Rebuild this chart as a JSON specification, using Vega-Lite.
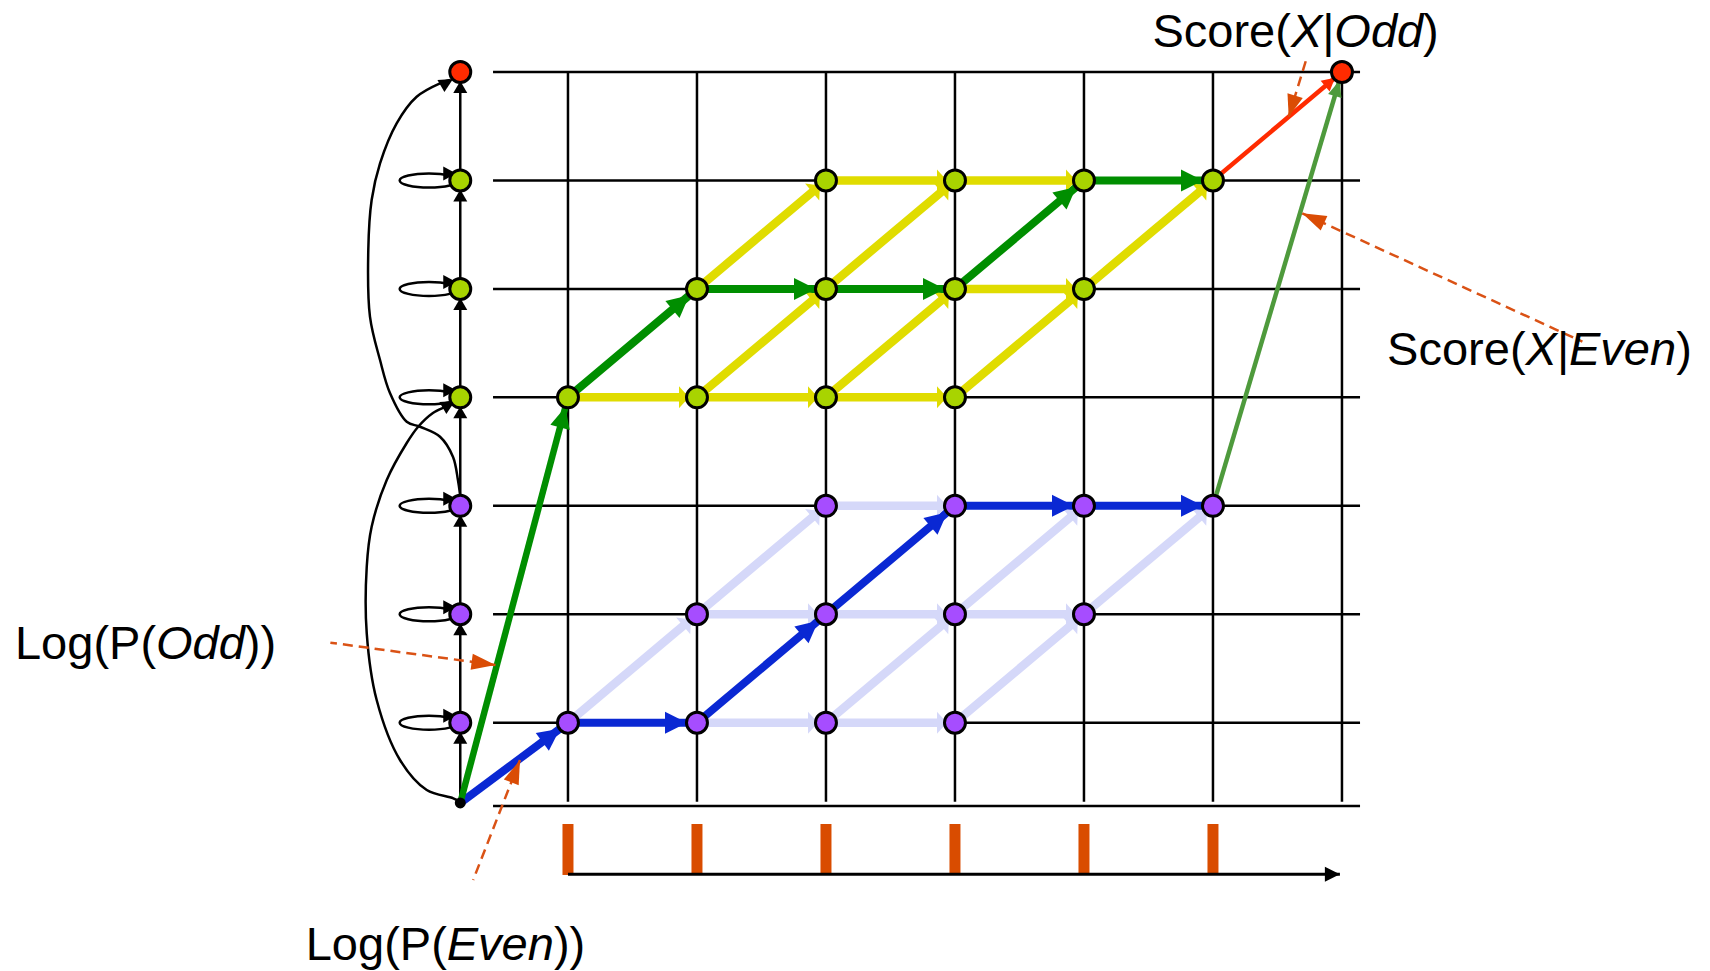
{
"$schema": "https://vega.github.io/schema/vega-lite/v6.json",
"width": 1710, "height": 971,
"autosize": {"type": "fit", "contains": "padding"},
"padding": 0,
"background": "white",
"config": {"view": {"stroke": null}},
"datasets": {
"grid": [
{"x":0.419,"y":7,"x0":7.14,"y0":7},{"x":0.419,"y":6,"x0":7.14,"y0":6},{"x":0.419,"y":5,"x0":7.14,"y0":5},{"x":0.419,"y":4,"x0":7.14,"y0":4},
{"x":0.419,"y":3,"x0":7.14,"y0":3},{"x":0.419,"y":2,"x0":7.14,"y0":2},{"x":0.419,"y":1,"x0":7.14,"y0":1},{"x":0.419,"y":0.232,"x0":7.14,"y0":0.232},
{"x":1,"y":7,"x0":1,"y0":0.27},{"x":2,"y":7,"x0":2,"y0":0.27},{"x":3,"y":7,"x0":3,"y0":0.27},{"x":4,"y":7,"x0":4,"y0":0.27},
{"x":5,"y":7,"x0":5,"y0":0.27},{"x":6,"y":7,"x0":6,"y0":0.27},{"x":7,"y":7,"x0":7,"y0":0.27}
],
"ticks": [{"x":1,"y":0.066,"y0":-0.404},{"x":2,"y":0.066,"y0":-0.404},{"x":3,"y":0.066,"y0":-0.404},{"x":4,"y":0.066,"y0":-0.404},{"x":5,"y":0.066,"y0":-0.404},{"x":6,"y":0.066,"y0":-0.404}],
"axisline": [{"x":6.984,"y":-0.397,"x0":1,"y0":-0.397}],
"stem": [{"x":0.165,"y":7,"x0":0.165,"y0":0.26}],
"arcs": [
{"arc":"A","i":0,"x":0.163,"y":3.109},{"arc":"A","i":1,"x":0.147,"y":3.238},{"arc":"A","i":2,"x":0.109,"y":3.45},{"arc":"A","i":3,"x":0.008,"y":3.637},
{"arc":"A","i":4,"x":-0.147,"y":3.729},{"arc":"A","i":5,"x":-0.25,"y":3.775},{"arc":"A","i":6,"x":-0.38,"y":4.04},{"arc":"A","i":7,"x":-0.457,"y":4.344},
{"arc":"A","i":8,"x":-0.535,"y":4.744},{"arc":"A","i":9,"x":-0.548,"y":5.359},{"arc":"A","i":10,"x":-0.522,"y":5.82},{"arc":"A","i":11,"x":-0.457,"y":6.158},
{"arc":"A","i":12,"x":-0.328,"y":6.527},{"arc":"A","i":13,"x":-0.173,"y":6.772},{"arc":"A","i":14,"x":0.008,"y":6.896},{"arc":"A","i":15,"x":0.085,"y":6.926},
{"arc":"B","i":0,"x":0.165,"y":0.27},{"arc":"B","i":1,"x":0.111,"y":0.303},{"arc":"B","i":2,"x":-0.095,"y":0.379},{"arc":"B","i":3,"x":-0.302,"y":0.656},
{"arc":"B","i":4,"x":-0.483,"y":1.209},{"arc":"B","i":5,"x":-0.56,"y":1.824},{"arc":"B","i":6,"x":-0.56,"y":2.438},{"arc":"B","i":7,"x":-0.522,"y":2.807},
{"arc":"B","i":8,"x":-0.405,"y":3.238},{"arc":"B","i":9,"x":-0.25,"y":3.579},{"arc":"B","i":10,"x":-0.163,"y":3.727},{"arc":"B","i":11,"x":-0.047,"y":3.856},
{"arc":"B","i":12,"x":0.06,"y":3.92},{"arc":"B","i":13,"x":0.1,"y":3.95}
],
"archeads": [{"x":0.109,"y":6.935},{"x":0.124,"y":3.966}],
"edges": [
{"x":2,"y":4,"x0":1,"y0":4,"c":"oa","dir":"h"},{"x":3,"y":4,"x0":2,"y0":4,"c":"oa","dir":"h"},{"x":4,"y":4,"x0":3,"y0":4,"c":"oa","dir":"h"},
{"x":5,"y":5,"x0":4,"y0":5,"c":"oa","dir":"h"},{"x":4,"y":6,"x0":3,"y0":6,"c":"oa","dir":"h"},{"x":5,"y":6,"x0":4,"y0":6,"c":"oa","dir":"h"},
{"x":3,"y":5,"x0":2,"y0":4,"c":"oa","dir":"d"},{"x":4,"y":5,"x0":3,"y0":4,"c":"oa","dir":"d"},{"x":5,"y":5,"x0":4,"y0":4,"c":"oa","dir":"d"},
{"x":3,"y":6,"x0":2,"y0":5,"c":"oa","dir":"d"},{"x":4,"y":6,"x0":3,"y0":5,"c":"oa","dir":"d"},{"x":6,"y":6,"x0":5,"y0":5,"c":"oa","dir":"d"},
{"x":1,"y":4,"x0":0.165,"y0":0.26,"c":"ob","dir":"sg"},{"x":2,"y":5,"x0":1,"y0":4,"c":"ob","dir":"d"},{"x":3,"y":5,"x0":2,"y0":5,"c":"ob","dir":"h"},
{"x":4,"y":5,"x0":3,"y0":5,"c":"ob","dir":"h"},{"x":5,"y":6,"x0":4,"y0":5,"c":"ob","dir":"d"},{"x":6,"y":6,"x0":5,"y0":6,"c":"ob","dir":"h"},
{"x":7,"y":7,"x0":6,"y0":6,"c":"sc","dir":"d"},
{"x":3,"y":1,"x0":2,"y0":1,"c":"ea","dir":"h"},{"x":4,"y":1,"x0":3,"y0":1,"c":"ea","dir":"h"},{"x":3,"y":2,"x0":2,"y0":2,"c":"ea","dir":"h"},
{"x":4,"y":2,"x0":3,"y0":2,"c":"ea","dir":"h"},{"x":5,"y":2,"x0":4,"y0":2,"c":"ea","dir":"h"},{"x":4,"y":3,"x0":3,"y0":3,"c":"ea","dir":"h"},
{"x":2,"y":2,"x0":1,"y0":1,"c":"ea","dir":"d"},{"x":4,"y":2,"x0":3,"y0":1,"c":"ea","dir":"d"},{"x":5,"y":2,"x0":4,"y0":1,"c":"ea","dir":"d"},
{"x":3,"y":3,"x0":2,"y0":2,"c":"ea","dir":"d"},{"x":5,"y":3,"x0":4,"y0":2,"c":"ea","dir":"d"},{"x":6,"y":3,"x0":5,"y0":2,"c":"ea","dir":"d"},
{"x":1,"y":1,"x0":0.165,"y0":0.26,"c":"eb","dir":"sb"},{"x":2,"y":1,"x0":1,"y0":1,"c":"eb","dir":"h"},{"x":3,"y":2,"x0":2,"y0":1,"c":"eb","dir":"d"},
{"x":4,"y":3,"x0":3,"y0":2,"c":"eb","dir":"d"},{"x":5,"y":3,"x0":4,"y0":3,"c":"eb","dir":"h"},{"x":6,"y":3,"x0":5,"y0":3,"c":"eb","dir":"h"},
{"x":7,"y":7,"x0":6,"y0":3,"c":"lg","dir":"lg"}
],
"nodes": [
{"x":1,"y":4,"c":"no"},{"x":2,"y":4,"c":"no"},{"x":3,"y":4,"c":"no"},{"x":4,"y":4,"c":"no"},
{"x":2,"y":5,"c":"no"},{"x":3,"y":5,"c":"no"},{"x":4,"y":5,"c":"no"},{"x":5,"y":5,"c":"no"},
{"x":3,"y":6,"c":"no"},{"x":4,"y":6,"c":"no"},{"x":5,"y":6,"c":"no"},{"x":6,"y":6,"c":"no"},
{"x":1,"y":1,"c":"ne"},{"x":2,"y":1,"c":"ne"},{"x":3,"y":1,"c":"ne"},{"x":4,"y":1,"c":"ne"},
{"x":2,"y":2,"c":"ne"},{"x":3,"y":2,"c":"ne"},{"x":4,"y":2,"c":"ne"},{"x":5,"y":2,"c":"ne"},
{"x":3,"y":3,"c":"ne"},{"x":4,"y":3,"c":"ne"},{"x":5,"y":3,"c":"ne"},{"x":6,"y":3,"c":"ne"},
{"x":7,"y":7,"c":"nr"},
{"x":0.165,"y":1,"c":"ne"},{"x":0.165,"y":2,"c":"ne"},{"x":0.165,"y":3,"c":"ne"},
{"x":0.165,"y":4,"c":"no"},{"x":0.165,"y":5,"c":"no"},{"x":0.165,"y":6,"c":"no"},{"x":0.165,"y":7,"c":"nr"}
],
"start": [{"x":0.165,"y":0.26}],
"notes": [
{"id":"a1","x":0.438,"y":1.532,"x0":-0.842,"y0":1.738},
{"id":"a2","x":0.628,"y":0.656,"x0":0.265,"y0":-0.45},
{"id":"a3","x":6.587,"y":6.588,"x0":6.722,"y0":7.111},
{"id":"a4","x":6.692,"y":5.697,"x0":8.864,"y0":4.513}
],
"labn": [
{"x":-3.287,"y":1.585,"t":"Log(P("},{"x":-1.505,"y":1.585,"t":"))"},
{"x":-1.033,"y":-1.188,"t":"Log(P("},{"x":0.891,"y":-1.188,"t":"))"},
{"x":5.531,"y":7.233,"t":"Score("},{"x":6.847,"y":7.233,"t":"|"},{"x":7.629,"y":7.233,"t":")"},
{"x":7.35,"y":4.298,"t":"Score("},{"x":8.666,"y":4.298,"t":"|"},{"x":9.591,"y":4.298,"t":")"}
],
"labi": [
{"x":-2.194,"y":1.585,"t":"Odd"},{"x":0.06,"y":-1.188,"t":"Even"},
{"x":6.604,"y":7.233,"t":"X"},{"x":6.941,"y":7.233,"t":"Odd"},
{"x":8.423,"y":4.298,"t":"X"},{"x":8.76,"y":4.298,"t":"Even"}
]
},
"encoding": {
"x": {"field":"x","type":"quantitative","scale":{"domain":[-3.403,9.853],"nice":false,"zero":false},"axis":null},
"y": {"field":"y","type":"quantitative","scale":{"domain":[-1.2895,7.664],"nice":false,"zero":false},"axis":null}
},
"layer": [
{"data":{"name":"grid"},"mark":{"type":"rule","stroke":"black","strokeWidth":2.5},"encoding":{"x2":{"field":"x0"},"y2":{"field":"y0"}}},
{"data":{"name":"ticks"},"mark":{"type":"rule","stroke":"#D94C00","strokeWidth":11},"encoding":{"y2":{"field":"y0"}}},
{"data":{"name":"axisline"},"mark":{"type":"rule","stroke":"black","strokeWidth":3},"encoding":{"x2":{"field":"x0"},"y2":{"field":"y0"}}},
{"data":{"name":"axisline"},"mark":{"type":"point","shape":"M 0 0 L -15 -7.5 L -15 7.5 Z","size":4,"filled":true,"fill":"black","opacity":1,"strokeWidth":0}},
{"data":{"name":"stem"},"mark":{"type":"rule","stroke":"black","strokeWidth":2.5},"encoding":{"x2":{"field":"x0"},"y2":{"field":"y0"}}},
{"data":{"name":"arcs"},"mark":{"type":"line","stroke":"black","strokeWidth":2.5,"interpolate":"catmull-rom"},"encoding":{"detail":{"field":"arc"},"order":{"field":"i","type":"quantitative"}}},
{"data":{"name":"archeads"},"mark":{"type":"point","shape":"M 0 0 L -14 -7 L -14 7 Z","size":4,"angle":-30,"filled":true,"fill":"black","opacity":1,"strokeWidth":0}},
{"data":{"name":"nodes"},"transform":[{"filter":"datum.x < 0.5 && datum.y < 6.5"}],"mark":{"type":"point","shape":"M -2 0 A 29.3 7 0 0 0 -60.6 0 A 29.3 7 0 0 0 -2 0","size":4,"filled":false,"stroke":"black","strokeWidth":2.5,"opacity":1}},
{"data":{"name":"nodes"},"transform":[{"filter":"datum.x < 0.5 && datum.y < 6.5"}],"mark":{"type":"point","shape":"M -4 -7 L -17 -14 L -17 0 Z","size":4,"filled":true,"fill":"black","opacity":1,"strokeWidth":0}},
{"data":{"name":"nodes"},"transform":[{"filter":"datum.x < 0.5"}],"mark":{"type":"point","shape":"M 0 9 L -7 21 L 7 21 Z","size":4,"filled":true,"fill":"black","opacity":1,"strokeWidth":0}},
{"data":{"name":"edges"},"transform":[{"filter":"datum.c === 'oa' || datum.c === 'ea'"}],"mark":{"type":"rule","strokeWidth":8.5},"encoding":{"x2":{"field":"x0"},"y2":{"field":"y0"},"color":{"field":"c","type":"nominal","scale":{"domain":["oa","ob","ea","eb","sc","lg","no","ne","nr"],"range":["#E0DC00","#008E00","#D5D8F9","#0A28D3","#FF2B00","#4E9A3C","#A8D400","#A64DFF","#FF2B00"]},"legend":null}}},
{"data":{"name":"edges"},"transform":[{"filter":"(datum.c === 'ob' || datum.c === 'eb') && datum.dir !== 'sg'"}],"mark":{"type":"rule","strokeWidth":8},"encoding":{"x2":{"field":"x0"},"y2":{"field":"y0"},"color":{"field":"c","type":"nominal","scale":{"domain":["oa","ob","ea","eb","sc","lg","no","ne","nr"],"range":["#E0DC00","#008E00","#D5D8F9","#0A28D3","#FF2B00","#4E9A3C","#A8D400","#A64DFF","#FF2B00"]},"legend":null}}},
{"data":{"name":"edges"},"transform":[{"filter":"datum.dir === 'sg'"}],"mark":{"type":"rule","strokeWidth":6.5},"encoding":{"x2":{"field":"x0"},"y2":{"field":"y0"},"color":{"field":"c","type":"nominal","scale":{"domain":["oa","ob","ea","eb","sc","lg","no","ne","nr"],"range":["#E0DC00","#008E00","#D5D8F9","#0A28D3","#FF2B00","#4E9A3C","#A8D400","#A64DFF","#FF2B00"]},"legend":null}}},
{"data":{"name":"edges"},"transform":[{"filter":"datum.c === 'sc' || datum.c === 'lg'"}],"mark":{"type":"rule","strokeWidth":4.5},"encoding":{"x2":{"field":"x0"},"y2":{"field":"y0"},"color":{"field":"c","type":"nominal","scale":{"domain":["oa","ob","ea","eb","sc","lg","no","ne","nr"],"range":["#E0DC00","#008E00","#D5D8F9","#0A28D3","#FF2B00","#4E9A3C","#A8D400","#A64DFF","#FF2B00"]},"legend":null}}},
{"data":{"name":"edges"},"transform":[{"filter":"datum.dir === 'h' && (datum.c === 'oa' || datum.c === 'ea')"}],"mark":{"type":"point","shape":"M -8 0 L -18 -11 L -18 11 Z","size":4,"filled":true,"opacity":1,"strokeWidth":0},"encoding":{"color":{"field":"c","type":"nominal","scale":{"domain":["oa","ob","ea","eb","sc","lg","no","ne","nr"],"range":["#E0DC00","#008E00","#D5D8F9","#0A28D3","#FF2B00","#4E9A3C","#A8D400","#A64DFF","#FF2B00"]},"legend":null}}},
{"data":{"name":"edges"},"transform":[{"filter":"datum.dir === 'd' && (datum.c === 'oa' || datum.c === 'ea')"}],"mark":{"type":"point","shape":"M -8 0 L -18 -11 L -18 11 Z","size":4,"angle":-40,"filled":true,"opacity":1,"strokeWidth":0},"encoding":{"color":{"field":"c","type":"nominal","scale":{"domain":["oa","ob","ea","eb","sc","lg","no","ne","nr"],"range":["#E0DC00","#008E00","#D5D8F9","#0A28D3","#FF2B00","#4E9A3C","#A8D400","#A64DFF","#FF2B00"]},"legend":null}}},
{"data":{"name":"edges"},"transform":[{"filter":"datum.dir === 'h' && (datum.c === 'ob' || datum.c === 'eb')"}],"mark":{"type":"point","shape":"M -10 0 L -32 -11 L -32 11 Z","size":4,"filled":true,"opacity":1,"strokeWidth":0},"encoding":{"color":{"field":"c","type":"nominal","scale":{"domain":["oa","ob","ea","eb","sc","lg","no","ne","nr"],"range":["#E0DC00","#008E00","#D5D8F9","#0A28D3","#FF2B00","#4E9A3C","#A8D400","#A64DFF","#FF2B00"]},"legend":null}}},
{"data":{"name":"edges"},"transform":[{"filter":"datum.dir === 'd' && (datum.c === 'ob' || datum.c === 'eb')"}],"mark":{"type":"point","shape":"M -10 0 L -32 -11 L -32 11 Z","size":4,"angle":-40,"filled":true,"opacity":1,"strokeWidth":0},"encoding":{"color":{"field":"c","type":"nominal","scale":{"domain":["oa","ob","ea","eb","sc","lg","no","ne","nr"],"range":["#E0DC00","#008E00","#D5D8F9","#0A28D3","#FF2B00","#4E9A3C","#A8D400","#A64DFF","#FF2B00"]},"legend":null}}},
{"data":{"name":"edges"},"transform":[{"filter":"datum.dir === 'sb'"}],"mark":{"type":"point","shape":"M -10 0 L -32 -11 L -32 11 Z","size":4,"angle":-36.7,"filled":true,"opacity":1,"strokeWidth":0},"encoding":{"color":{"field":"c","type":"nominal","scale":{"domain":["oa","ob","ea","eb","sc","lg","no","ne","nr"],"range":["#E0DC00","#008E00","#D5D8F9","#0A28D3","#FF2B00","#4E9A3C","#A8D400","#A64DFF","#FF2B00"]},"legend":null}}},
{"data":{"name":"edges"},"transform":[{"filter":"datum.dir === 'sg'"}],"mark":{"type":"point","shape":"M -10 0 L -31 -10 L -31 10 Z","size":4,"angle":-75.1,"filled":true,"opacity":1,"strokeWidth":0},"encoding":{"color":{"field":"c","type":"nominal","scale":{"domain":["oa","ob","ea","eb","sc","lg","no","ne","nr"],"range":["#E0DC00","#008E00","#D5D8F9","#0A28D3","#FF2B00","#4E9A3C","#A8D400","#A64DFF","#FF2B00"]},"legend":null}}},
{"data":{"name":"edges"},"transform":[{"filter":"datum.dir === 'lg'"}],"mark":{"type":"point","shape":"M -9 0 L -25 -7 L -25 7 Z","size":4,"angle":-73.4,"filled":true,"opacity":1,"strokeWidth":0},"encoding":{"color":{"field":"c","type":"nominal","scale":{"domain":["oa","ob","ea","eb","sc","lg","no","ne","nr"],"range":["#E0DC00","#008E00","#D5D8F9","#0A28D3","#FF2B00","#4E9A3C","#A8D400","#A64DFF","#FF2B00"]},"legend":null}}},
{"data":{"name":"edges"},"transform":[{"filter":"datum.c === 'sc'"}],"mark":{"type":"point","shape":"M -9 0 L -22 -7 L -22 7 Z","size":4,"angle":-40,"filled":true,"opacity":1,"strokeWidth":0},"encoding":{"color":{"field":"c","type":"nominal","scale":{"domain":["oa","ob","ea","eb","sc","lg","no","ne","nr"],"range":["#E0DC00","#008E00","#D5D8F9","#0A28D3","#FF2B00","#4E9A3C","#A8D400","#A64DFF","#FF2B00"]},"legend":null}}},
{"data":{"name":"notes"},"mark":{"type":"rule","stroke":"#DA5215","strokeWidth":2.5,"strokeDash":[10,6]},"encoding":{"x2":{"field":"x0"},"y2":{"field":"y0"}}},
{"data":{"name":"notes"},"transform":[{"filter":"datum.id === 'a1'"}],"mark":{"type":"point","shape":"M 0 0 L -24 -8 L -24 8 Z","size":4,"angle":7.7,"filled":true,"fill":"#DA4C05","opacity":1,"strokeWidth":0}},
{"data":{"name":"notes"},"transform":[{"filter":"datum.id === 'a2'"}],"mark":{"type":"point","shape":"M 0 0 L -24 -8 L -24 8 Z","size":4,"angle":-68.6,"filled":true,"fill":"#DA4C05","opacity":1,"strokeWidth":0}},
{"data":{"name":"notes"},"transform":[{"filter":"datum.id === 'a3'"}],"mark":{"type":"point","shape":"M 0 0 L -22 -8 L -22 8 Z","size":4,"angle":107,"filled":true,"fill":"#DA4C05","opacity":1,"strokeWidth":0}},
{"data":{"name":"notes"},"transform":[{"filter":"datum.id === 'a4'"}],"mark":{"type":"point","shape":"M 0 0 L -24 -8 L -24 8 Z","size":4,"angle":-155.4,"filled":true,"fill":"#DA4C05","opacity":1,"strokeWidth":0}},
{"data":{"name":"nodes"},"mark":{"type":"point","shape":"circle","size":440,"filled":true,"stroke":"black","strokeWidth":3,"opacity":1},"encoding":{"color":{"field":"c","type":"nominal","scale":{"domain":["oa","ob","ea","eb","sc","lg","no","ne","nr"],"range":["#E0DC00","#008E00","#D5D8F9","#0A28D3","#FF2B00","#4E9A3C","#A8D400","#A64DFF","#FF2B00"]},"legend":null}}},
{"data":{"name":"start"},"mark":{"type":"point","shape":"circle","size":120,"filled":true,"fill":"black","opacity":1,"strokeWidth":0}},
{"data":{"name":"labn"},"mark":{"type":"text","font":"Liberation Sans","fontSize":47,"align":"left","baseline":"alphabetic","fill":"black"},"encoding":{"text":{"field":"t"}}},
{"data":{"name":"labi"},"mark":{"type":"text","font":"Liberation Sans","fontSize":47,"fontStyle":"italic","align":"left","baseline":"alphabetic","fill":"black"},"encoding":{"text":{"field":"t"}}}
]
}
